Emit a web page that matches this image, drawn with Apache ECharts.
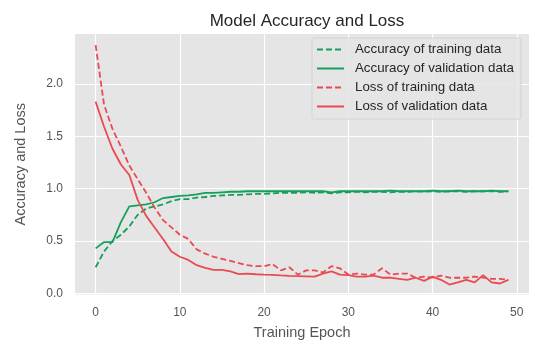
<!DOCTYPE html>
<html><head><meta charset="utf-8">
<script src="https://cdn.jsdelivr.net/npm/echarts@6/dist/echarts.min.js"></script>
<style>html,body{margin:0;padding:0;background:#fff}#c{width:550px;height:349px}</style>
</head><body><div id="c"></div>
<script>
const epochs = Array.from({length: 50}, (_, i) => i);
const accTrain = [0.25,0.40,0.50,0.56,0.64,0.75,0.81,0.83,0.85,0.88,0.90,0.90,0.915,0.92,0.93,0.935,0.94,0.94,0.945,0.95,
  0.95,0.955,0.96,0.96,0.96,0.965,0.96,0.965,0.955,0.965,0.965,0.97,0.965,0.97,0.97,0.965,0.97,0.97,0.975,0.97,
  0.975,0.97,0.975,0.975,0.97,0.975,0.975,0.975,0.97,0.975];
const accVal = [0.43,0.49,0.49,0.68,0.83,0.84,0.85,0.87,0.91,0.92,0.93,0.935,0.945,0.96,0.96,0.965,0.97,0.97,0.975,0.975,
  0.975,0.975,0.975,0.975,0.975,0.975,0.975,0.975,0.965,0.975,0.975,0.975,0.975,0.975,0.975,0.98,0.975,0.975,0.975,0.975,
  0.98,0.975,0.975,0.98,0.975,0.975,0.975,0.98,0.975,0.975];
const lossTrain = [2.37,1.80,1.57,1.40,1.22,1.09,0.96,0.82,0.70,0.63,0.56,0.52,0.42,0.38,0.35,0.33,0.31,0.29,0.27,0.26,
  0.26,0.28,0.22,0.25,0.18,0.22,0.22,0.20,0.26,0.24,0.18,0.19,0.18,0.18,0.24,0.18,0.19,0.19,0.15,0.16,
  0.15,0.17,0.15,0.15,0.15,0.16,0.15,0.14,0.14,0.13];
const lossVal = [1.83,1.59,1.38,1.23,1.13,0.89,0.74,0.63,0.52,0.40,0.35,0.32,0.27,0.245,0.225,0.225,0.21,0.185,0.19,0.183,
  0.18,0.178,0.172,0.167,0.165,0.163,0.16,0.19,0.21,0.18,0.175,0.16,0.16,0.17,0.15,0.15,0.14,0.13,0.15,0.12,
  0.16,0.13,0.085,0.105,0.13,0.105,0.175,0.105,0.095,0.13];
const xTicks = [0,10,20,30,40,50];
const yTicks = [0.0,0.5,1.0,1.5,2.0];
const names = ['Accuracy of training data','Accuracy of validation data','Loss of training data','Loss of validation data'];

const GREEN = '#14a05c', RED = '#ea4a52';
const FONT = 'Liberation Sans, Arial, sans-serif';
function pairs(arr){ return arr.map((v,i)=>[epochs[i], v]); }
function mk(name, data, color, dashed){
  return {name, type:'line', data: pairs(data), symbol:'none', showSymbol:false,
    lineStyle:{color, width:1.8, type: dashed ? [6,3] : 'solid'}, itemStyle:{color}, z: 3, animation:false};
}
const chart = echarts.init(document.getElementById('c'), null, {renderer:'canvas'});
chart.setOption({
  animation:false,
  backgroundColor:'#fff',
  title:{text:'Model Accuracy and Loss', left:302, textAlign:'center', top:8,
    textStyle:{fontFamily:FONT, fontSize:17, fontWeight:'normal', color:'#262626'}},
  grid:{left:75, right:21, top:34, bottom:54.5, show:true, backgroundColor:'#e5e5e5', borderWidth:0},
  legend:{data:names, orient:'vertical', left:312, top:38, itemWidth:27, itemHeight:10, itemGap:6,
    itemStyle:{opacity:0},
    backgroundColor:'rgba(229,229,229,0.85)', borderColor:'#d4d4d4', borderWidth:1, borderRadius:2,
    padding:[5,7,6,4], textStyle:{fontFamily:FONT, fontSize:13.3, color:'#262626', padding:[0,0,0,6]}},
  xAxis:{type:'value', min:-2.45, max:51.45, name:'Training Epoch', nameLocation:'middle', nameGap:31,
    nameTextStyle:{fontFamily:FONT, fontSize:14.5, color:'#555'},
    axisLine:{show:false}, axisTick:{show:false, customValues:xTicks},
    axisLabel:{customValues:xTicks, fontFamily:FONT, fontSize:12, color:'#555', margin:12},
    splitLine:{show:true, lineStyle:{color:'#fff', width:1.2}}},
  yAxis:{type:'value', min:-0.01, max:2.475, name:'Accuracy and Loss', nameLocation:'middle', nameGap:47,
    nameTextStyle:{fontFamily:FONT, fontSize:14.5, color:'#555'},
    axisLine:{show:false}, axisTick:{show:false, customValues:yTicks},
    axisLabel:{customValues:yTicks, formatter:v=>v.toFixed(1), fontFamily:FONT, fontSize:12, color:'#555', margin:12},
    splitLine:{show:true, lineStyle:{color:'#fff', width:1.2}}},
  series:[
    mk(names[0], accTrain, GREEN, true),
    mk(names[1], accVal, GREEN, false),
    mk(names[2], lossTrain, RED, true),
    mk(names[3], lossVal, RED, false)
  ]
});
</script></body></html>
